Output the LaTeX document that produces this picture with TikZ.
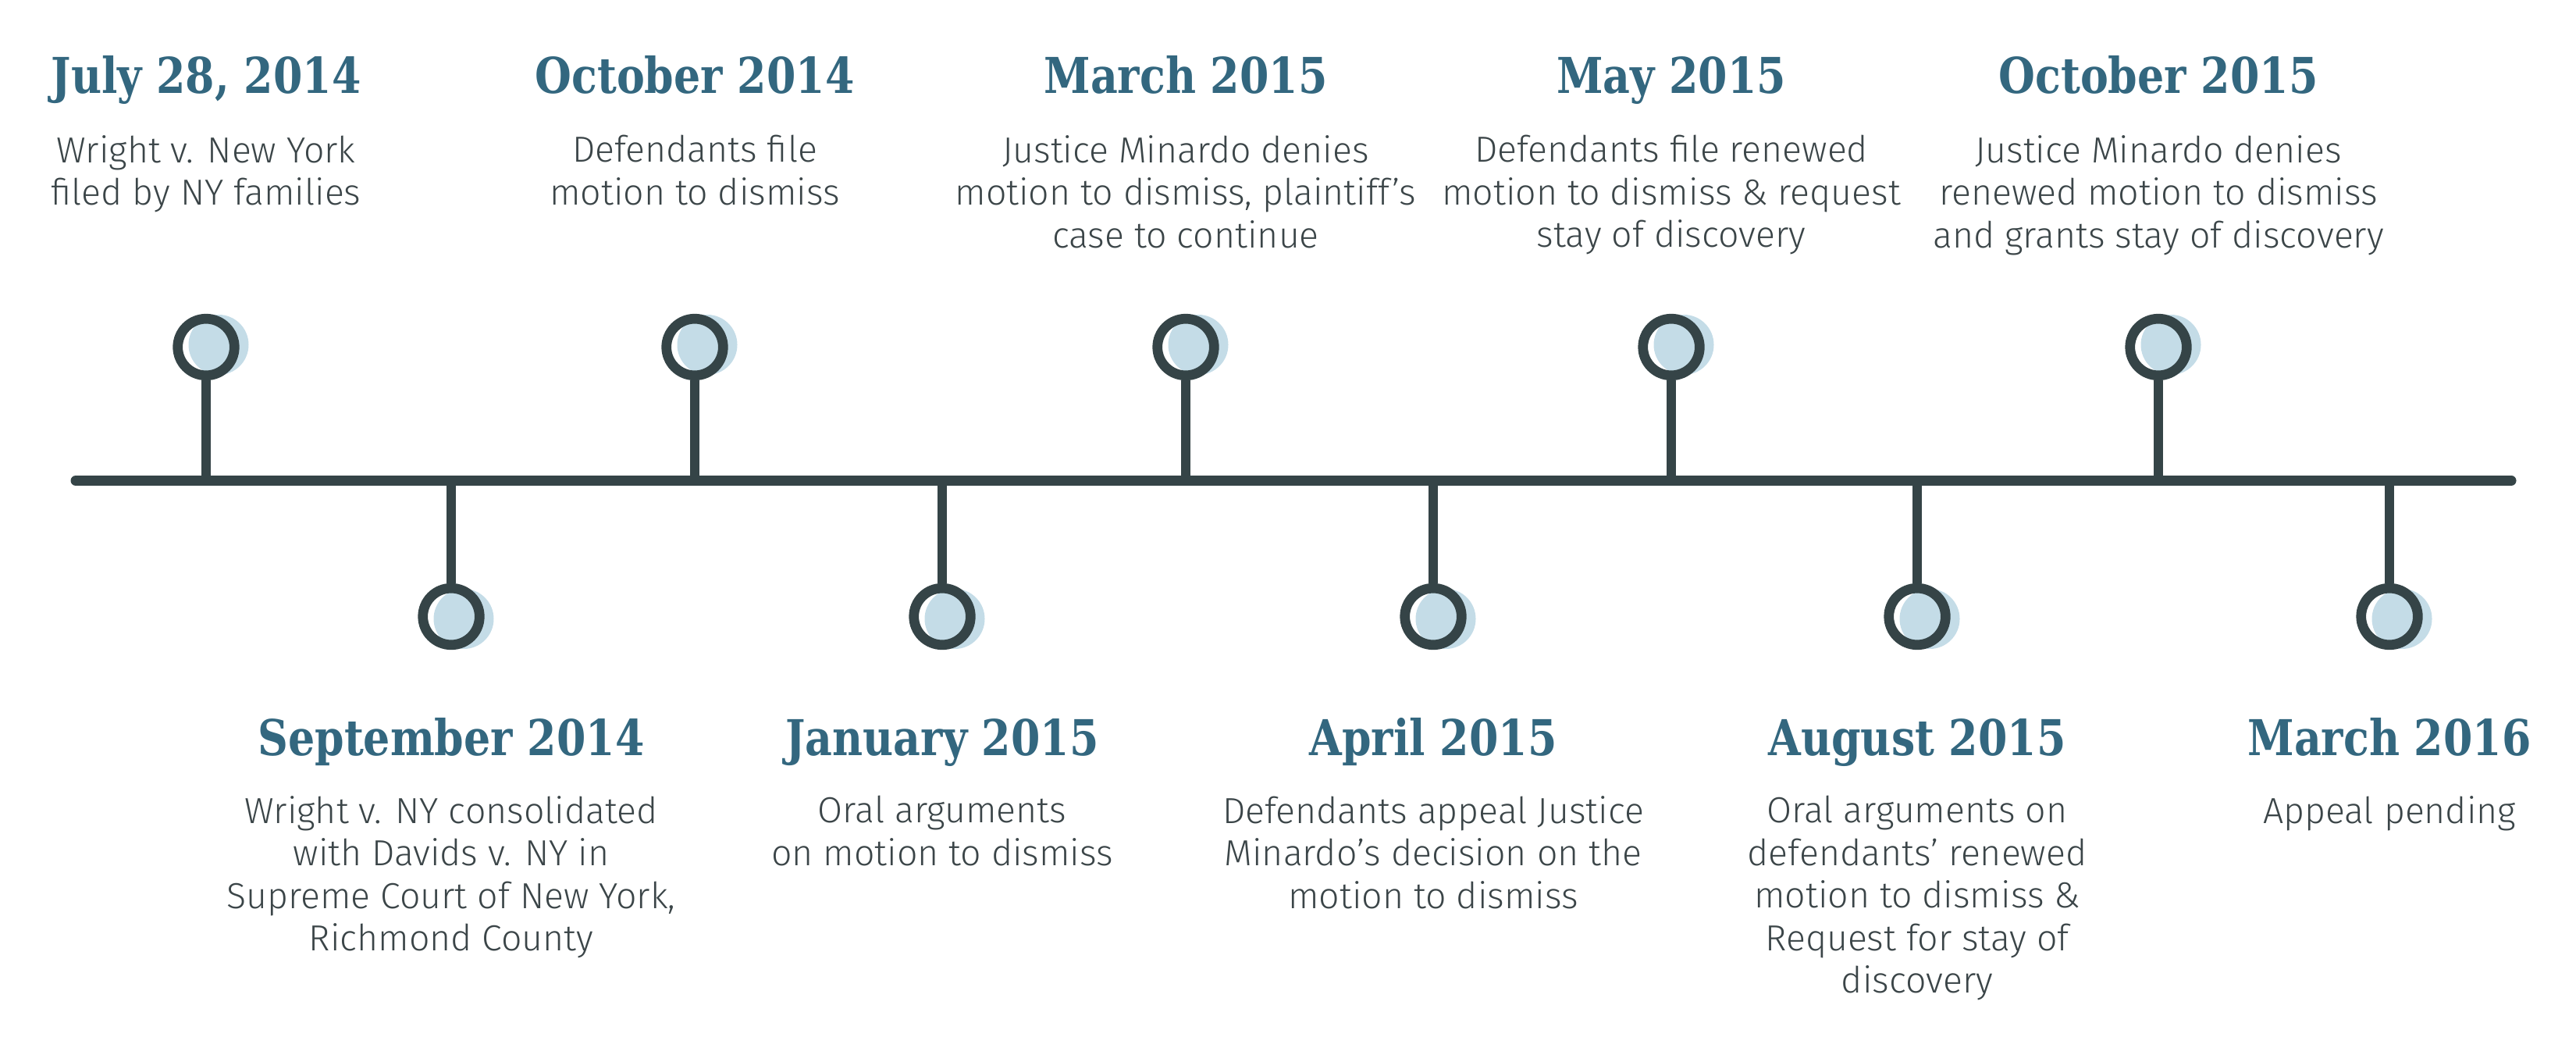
\documentclass[tikz,border=0pt]{standalone}
\usepackage{fontspec}
\usepackage{tikz}
\setmainfont{Fira Sans}[UprightFont=* Light]
\newfontfamily\datefont{DejaVu Serif}[FakeStretch=0.85]
\definecolor{lineGrey}{HTML}{354447}
\definecolor{dateBlue}{HTML}{33677F}
\definecolor{shadeBlue}{HTML}{C4DCE7}
\definecolor{textGrey}{HTML}{3B4548}

\begin{document}
\begin{tikzpicture}[
        declare function={
            LineY=7.345;
            UpY=9.055;
            DownY=5.605;
            UpDate=12.30;
            UpText=11.773;
            DownDate=3.83;
            DownText=3.313;
            Shift=0.16;
        },
        dotRing/.style={circle, draw=lineGrey, line width=0.127cm, minimum size=0.726cm, inner sep=0pt},
        dotFill/.style={fill=shadeBlue},
        stem/.style={draw=lineGrey, line width=0.125cm},
        dateText/.style={anchor=base, inner sep=0pt, text=dateBlue, font=\datefont\bfseries\fontsize{18}{20}\selectfont},
        eventText/.style={anchor=north, inner sep=0pt, align=center, text=textGrey, font=\fontsize{13.2}{15.5}\selectfont}
    ]
        \useasboundingbox (0, 0) rectangle (33, 13.5);

        \draw[lineGrey, line width=0.13cm, line cap=round] (0.97, LineY) -- (32.17, LineY);

        \coordinate (jul14Line) at (2.64, LineY);
        \coordinate (sep14Line) at (5.78, LineY);
        \coordinate (oct14Line) at (8.90, LineY);
        \coordinate (jan15Line) at (12.07, LineY);
        \coordinate (mar15Line) at (15.19, LineY);
        \coordinate (apr15Line) at (18.36, LineY);
        \coordinate (may15Line) at (21.41, LineY);
        \coordinate (aug15Line) at (24.56, LineY);
        \coordinate (oct15Line) at (27.65, LineY);
        \coordinate (mar16Line) at (30.61, LineY);

        \fill[dotFill] ({2.64 + Shift}, UpY + 0.03) circle (0.385);
        \fill[dotFill] ({5.78 + Shift}, DownY - 0.03) circle (0.385);
        \fill[dotFill] ({8.90 + Shift}, UpY + 0.03) circle (0.385);
        \fill[dotFill] ({12.07 + Shift}, DownY - 0.03) circle (0.385);
        \fill[dotFill] ({15.19 + Shift}, UpY + 0.03) circle (0.385);
        \fill[dotFill] ({18.36 + Shift}, DownY - 0.03) circle (0.385);
        \fill[dotFill] ({21.41 + Shift}, UpY + 0.03) circle (0.385);
        \fill[dotFill] ({24.56 + Shift}, DownY - 0.03) circle (0.385);
        \fill[dotFill] ({27.65 + Shift}, UpY + 0.03) circle (0.385);
        \fill[dotFill] ({30.61 + Shift}, DownY - 0.03) circle (0.385);

        \node[dotRing] (jul14) at (2.64, UpY) {};
        \node[dotRing] (sep14) at (5.78, DownY) {};
        \node[dotRing] (oct14) at (8.90, UpY) {};
        \node[dotRing] (jan15) at (12.07, DownY) {};
        \node[dotRing] (mar15) at (15.19, UpY) {};
        \node[dotRing] (apr15) at (18.36, DownY) {};
        \node[dotRing] (may15) at (21.41, UpY) {};
        \node[dotRing] (aug15) at (24.56, DownY) {};
        \node[dotRing] (oct15) at (27.65, UpY) {};
        \node[dotRing] (mar16) at (30.61, DownY) {};

        \draw[stem] (jul14) -- (jul14Line);
        \draw[stem] (sep14) -- (sep14Line);
        \draw[stem] (oct14) -- (oct14Line);
        \draw[stem] (jan15) -- (jan15Line);
        \draw[stem] (mar15) -- (mar15Line);
        \draw[stem] (apr15) -- (apr15Line);
        \draw[stem] (may15) -- (may15Line);
        \draw[stem] (aug15) -- (aug15Line);
        \draw[stem] (oct15) -- (oct15Line);
        \draw[stem] (mar16) -- (mar16Line);

        \node[dateText] (jul14Date) at (2.64, UpDate) {July 28, 2014};
        \node[dateText] (sep14Date) at (5.78, DownDate) {September 2014};
        \node[dateText] (oct14Date) at (8.90, UpDate) {October 2014};
        \node[dateText] (jan15Date) at (12.07, DownDate) {January 2015};
        \node[dateText] (mar15Date) at (15.19, UpDate) {March 2015};
        \node[dateText] (apr15Date) at (18.36, DownDate) {April 2015};
        \node[dateText] (may15Date) at (21.41, UpDate) {May 2015};
        \node[dateText] (aug15Date) at (24.56, DownDate) {August 2015};
        \node[dateText] (oct15Date) at (27.65, UpDate) {October 2015};
        \node[dateText] (mar16Date) at (30.61, DownDate) {March 2016};

        \node[eventText] (jul14Text) at (2.64, UpText) {Wright v. New York\\filed by NY families};
        \node[eventText] (sep14Text) at (5.78, DownText) {Wright v. NY consolidated\\with Davids v. NY in\\Supreme Court of New York,\\Richmond County};
        \node[eventText] (oct14Text) at (8.90, UpText) {Defendants file\\motion to dismiss};
        \node[eventText] (jan15Text) at (12.07, DownText) {Oral arguments\\on motion to dismiss};
        \node[eventText] (mar15Text) at (15.19, UpText) {Justice Minardo denies\\motion to dismiss, plaintiff’s\\case to continue};
        \node[eventText] (apr15Text) at (18.36, DownText) {Defendants appeal Justice\\Minardo’s decision on the\\motion to dismiss};
        \node[eventText] (may15Text) at (21.41, UpText) {Defendants file renewed\\motion to dismiss \& request\\stay of discovery};
        \node[eventText] (aug15Text) at (24.56, DownText) {Oral arguments on\\defendants’ renewed\\motion to dismiss \&\\Request for stay of\\discovery};
        \node[eventText] (oct15Text) at (27.65, UpText) {Justice Minardo denies\\renewed motion to dismiss\\and grants stay of discovery};
        \node[eventText] (mar16Text) at (30.61, DownText) {Appeal pending};
    \end{tikzpicture}
\end{document}
